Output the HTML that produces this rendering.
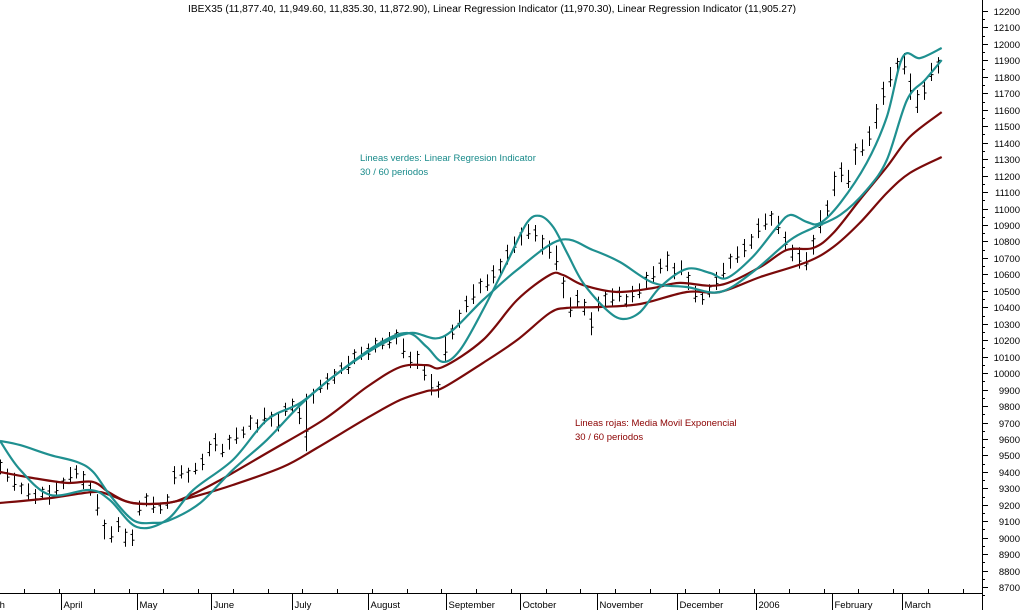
<!DOCTYPE html>
<html><head><meta charset="utf-8"><style>
body{margin:0;background:#fff;}
svg{display:block;font-family:"Liberation Sans",sans-serif;}
</style></head><body>
<svg id="chart" width="1024" height="610" viewBox="0 0 1024 610" xmlns="http://www.w3.org/2000/svg">
<rect width="1024" height="610" fill="#fff"/>
<text x="188" y="12" font-size="10" fill="#000" textLength="608" lengthAdjust="spacingAndGlyphs">IBEX35 (11,877.40, 11,949.60, 11,835.30, 11,872.90), Linear Regression Indicator (11,970.30), Linear Regression Indicator (11,905.27)</text>
<text x="360" y="161" font-size="9.5" fill="#188a8a">Lineas verdes: Linear Regresion Indicator</text>
<text x="360" y="175" font-size="9.5" fill="#188a8a">30 / 60 periodos</text>
<text x="575" y="426" font-size="9.5" fill="#8b0000">Lineas rojas: Media Movil Exponencial</text>
<text x="575" y="440" font-size="9.5" fill="#8b0000">30 / 60 periodos</text>
<g id="bars"></g>
<g id="lines"></g>
<g id="axes"></g>
</svg>
<script>
const mids=[9430,9380,9340,9300,9280,9250,9270,9260,9300,9330,9380,9400,9350,9300,9200,9050,9020,9080,9000,9000,
9180,9230,9200,9180,9220,9380,9400,9380,9420,9460,9540,9580,9530,9580,9620,9640,9700,9680,9740,9720,
9700,9780,9800,9740,9700,9860,9920,9950,9980,10030,10050,10100,10120,10130,10170,10180,10200,10220,10150,10080,
10080,10000,9930,9900,10150,10250,10330,10420,10480,10530,10550,10600,10650,10720,10780,10830,10860,10850,10780,10750,
10700,10520,10400,10450,10400,10300,10420,10450,10460,10480,10440,10480,10500,10560,10600,10650,10680,10620,10640,10560,
10480,10460,10500,10560,10620,10680,10720,10760,10800,10880,10920,10940,10900,10800,10730,10700,10680,10780,10920,11000,
11150,11220,11180,11330,11370,11440,11560,11700,11800,11860,11880,11740,11650,11720,11830,11870];
const ranges=[90,80,110,70,100,90,80,120,90,70,100,80,110,90,130,120,100,90,110,100,
90,80,100,70,90,110,80,90,70,100,90,110,80,90,100,70,90,80,100,90,
110,80,90,100,350,90,80,100,90,70,110,90,80,100,90,70,100,90,120,100,
110,90,130,100,150,90,110,100,120,90,100,110,90,120,100,110,90,100,120,110,
150,130,120,110,100,140,90,100,110,90,80,100,90,110,100,90,120,100,90,110,
100,90,80,110,100,90,100,110,90,120,100,90,110,120,100,130,110,120,140,100,
150,120,110,130,100,120,150,140,120,110,130,160,140,120,110,100];
const fastDays=[0,2.9,7.2,12.9,15.8,19.7,24,27.8,33.5,38.4,43.2,47.9,54.2,58.6,61.4,63.7,66.2,69.5,72.9,75.8,77.7,79.6,81.6,83.9,87.3,89.6,92.1,95,98.8,102.2,104.6,108.3,111.8,113.7,116.1,118,120.9,124.7,127.6,129.9,132.4,135.5];
const fastVals=[9588,9412,9260,9290,9229,9065,9108,9290,9472,9715,9819,9977,10171,10244,10159,10068,10141,10384,10669,10912,10955,10888,10730,10548,10384,10329,10371,10523,10633,10608,10578,10706,10888,10961,10918,10912,11034,11277,11556,11921,11914,11975];
const slowDays=[0,2.9,7.2,11.1,13.4,15.8,19.1,22,24.5,28.8,33.5,38.4,43.2,47.9,54.2,59,63.7,69.5,74.4,80.6,85.3,89.2,94,98.8,103.6,108.3,113.7,117,120.9,124.7,127.6,130.5,133.1,135.5];
const slowVals=[9588,9563,9503,9460,9400,9260,9108,9090,9108,9211,9412,9594,9806,9977,10159,10244,10220,10444,10627,10809,10748,10675,10548,10523,10493,10614,10809,10882,10961,11113,11295,11659,11781,11902];
const ema30Days=[0,4.7,9.6,13.4,15.8,19.1,24,26.9,31.2,38.4,46.5,52.8,57.6,61.4,63.7,69.5,74.4,79.1,81,83.9,88.8,94,97.8,103.6,109.4,113.2,117,119.9,123.7,127.6,130.9,135.5];
const ema30Vals=[9399,9363,9333,9339,9272,9211,9211,9248,9339,9515,9715,9916,10037,10049,10037,10201,10444,10596,10596,10535,10493,10517,10548,10535,10645,10748,10760,10851,11052,11252,11435,11586];
const ema60Days=[0,7.2,13.4,15.8,19.1,24,28.8,33.5,40.7,45.6,52.8,57.6,61.4,63.7,69.5,74.4,79.1,81.6,86.3,92.1,98.8,103.6,109.4,116.1,119.9,123.7,127.6,130.9,135.5];
const ema60Vals=[9211,9241,9278,9260,9211,9211,9260,9320,9430,9545,9727,9837,9891,9910,10062,10201,10365,10396,10402,10420,10493,10493,10584,10675,10766,10912,11094,11216,11313];
const yTicks=[8700,8800,8900,9000,9100,9200,9300,9400,9500,9600,9700,9800,9900,10000,10100,10200,10300,10400,10500,10600,10700,10800,10900,11000,11100,11200,11300,11400,11500,11600,11700,11800,11900,12000,12100,12200];
const monthLabels=["March","April","May","June","July","August","September","October","November","December","2006","February","March"];
const monthDays=[-3.5,8.8,19.7,30.4,42,53,64.2,74.8,85.9,97.4,108.8,119.7,129.8];

const NS="http://www.w3.org/2000/svg";
const X=d=>d*6.95;
const Y=p=>11+(12200-p)*0.1646;
function mk(tag,attrs,parent){const e=document.createElementNS(NS,tag);for(const k in attrs)e.setAttribute(k,attrs[k]);parent.appendChild(e);return e;}
const bars=document.getElementById('bars');
mids.forEach((m,i)=>{
  const x=Math.round(X(i))+0.5,h=Y(m+ranges[i]/2),l=Y(m-ranges[i]/2);
  const op=Y(m+ranges[i]*(i%2?0.2:-0.25)),cl=Y(m+ranges[i]*(i%3?-0.15:0.3));
  const g=mk('g',{},bars);
  
  
  mk('line',{x1:x,x2:x,y1:h,y2:l,stroke:'#000','stroke-width':1},g);
  mk('line',{x1:x-2,x2:x,y1:op,y2:op,stroke:'#000','stroke-width':1},g);
  mk('line',{x1:x,x2:x+2,y1:cl,y2:cl,stroke:'#000','stroke-width':1},g);
});
const lines=document.getElementById('lines');
function smoothPath(pts){
  let d='M'+pts[0][0].toFixed(1)+','+pts[0][1].toFixed(1);
  for(let i=0;i<pts.length-1;i++){
    const p0=pts[i-1]||pts[i],p1=pts[i],p2=pts[i+1],p3=pts[i+2]||p2;
    const c1=[p1[0]+(p2[0]-p0[0])/6,p1[1]+(p2[1]-p0[1])/6];
    const c2=[p2[0]-(p3[0]-p1[0])/6,p2[1]-(p3[1]-p1[1])/6];
    d+=' C'+c1[0].toFixed(1)+','+c1[1].toFixed(1)+' '+c2[0].toFixed(1)+','+c2[1].toFixed(1)+' '+p2[0].toFixed(1)+','+p2[1].toFixed(1);
  }
  return d;
}
function series(days,vals,color,name){
  const pts=days.map((d,i)=>[X(d),Y(vals[i])]);
  const pl=mk('path',{d:smoothPath(pts),fill:'none',stroke:color,'stroke-width':2.2,'stroke-linejoin':'round'},lines);
  
  
}
series(ema60Days,ema60Vals,'#7a0a0a','ema-60-line');
series(ema30Days,ema30Vals,'#7a0a0a','ema-30-line');
series(slowDays,slowVals,'#1f9090','lri-60-line');
series(fastDays,fastVals,'#1f9090','lri-30-line');
const axes=document.getElementById('axes');
const ya=mk('line',{x1:982.5,x2:982.5,y1:0,y2:610,stroke:'#000'},axes);


const xa=mk('line',{x1:0,x2:982,y1:593.5,y2:593.5,stroke:'#000'},axes);


yTicks.forEach(v=>{
  const y=Math.round(Y(v))+0.5;
  mk('line',{x1:982,x2:988,y1:y,y2:y,stroke:'#000'},axes);
  const ym=Math.round(Y(v-50))+0.5;
  mk('line',{x1:982,x2:985,y1:ym,y2:ym,stroke:'#000'},axes);
  const t=mk('text',{x:1020,y:y+3.5,'font-size':9.5,'text-anchor':'end',fill:'#000'},axes);
  
  
  t.textContent=v;
});
for(let w=-1;w<58;w++){const x=Math.round(X(w*5-1.5))+0.5;if(x<0||x>980)continue;mk('line',{x1:x,x2:x,y1:589,y2:593,stroke:'#000'},axes);}
monthLabels.forEach((m,i)=>{
  const x=Math.round(X(monthDays[i]))+0.5;
  mk('line',{x1:x,x2:x,y1:593,y2:610,stroke:'#000'},axes);
  const t=mk('text',{x:x+2,y:608,'font-size':9.5,fill:'#000'},axes);
  
  
  t.textContent=m;
});
</script>
</body></html>
